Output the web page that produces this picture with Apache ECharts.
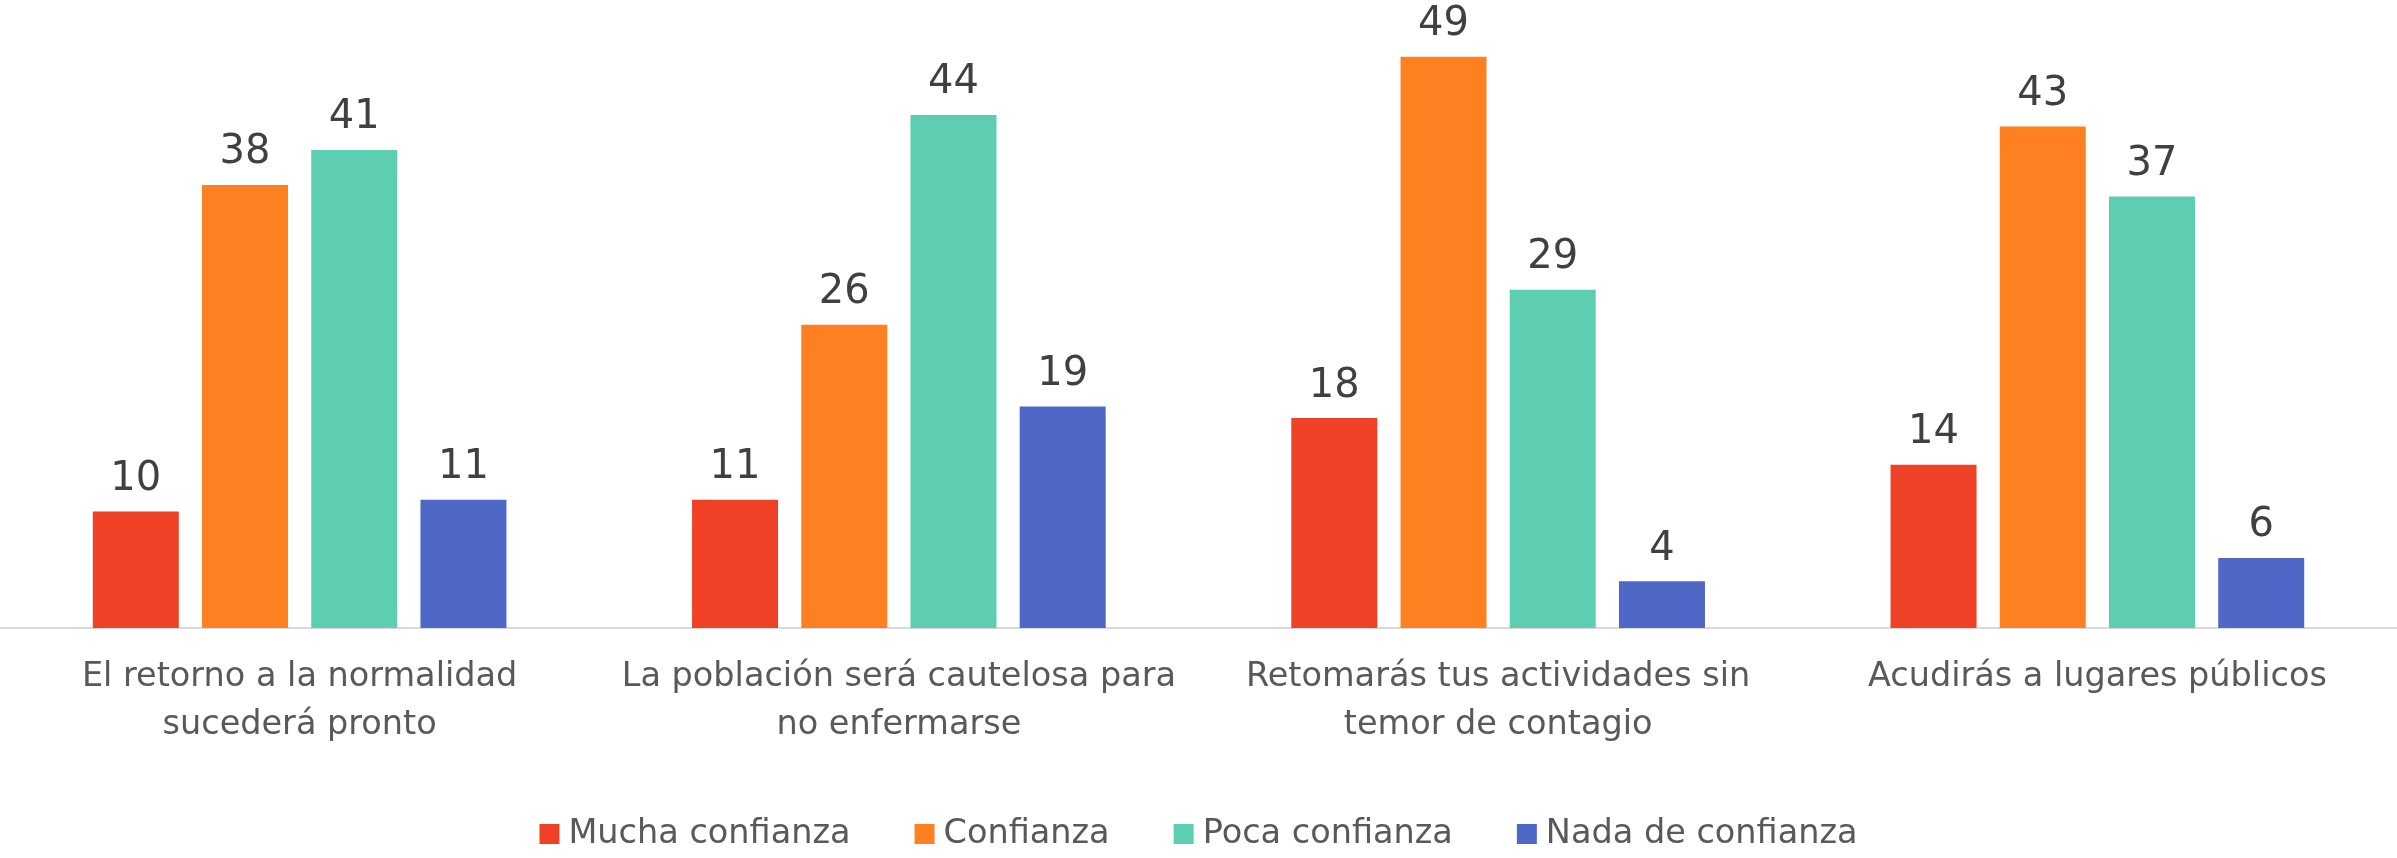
<!DOCTYPE html>
<html>
<head>
<meta charset="utf-8">
<script src="https://cdn.jsdelivr.net/npm/echarts@6/dist/echarts.min.js"></script>
<style>
html,body{margin:0;padding:0;background:#fff;}
#chart{width:2397px;height:858px;}
</style>
</head>
<body>
<div id="chart"></div>
<script>
const categories = [
  "El retorno a la normalidad\nsucederá pronto",
  "La población será cautelosa para\nno enfermarse",
  "Retomarás tus actividades sin\ntemor de contagio",
  "Acudirás a lugares públicos"
];
const seriesNames = ["Mucha confianza", "Confianza", "Poca confianza", "Nada de confianza"];
const muchaConfianza = [10, 11, 18, 14];
const confianza = [38, 26, 49, 43];
const pocaConfianza = [41, 44, 29, 37];
const nadaConfianza = [11, 19, 4, 6];
const colors = ["#EF4126", "#FE8021", "#5ECEB2", "#4F67C7"];

const values = [muchaConfianza, confianza, pocaConfianza, nadaConfianza];
const font = "'DejaVu Sans', Verdana, sans-serif";

const chart = echarts.init(document.getElementById('chart'));
chart.setOption({
  animation: false,
  backgroundColor: '#ffffff',
  grid: { left: 0, right: 0, top: 45, bottom: 230, containLabel: false },
  legend: {
    bottom: 2,
    left: 'center',
    itemWidth: 20,
    itemHeight: 20,
    itemGap: 64,
    icon: 'rect',
    textStyle: { fontFamily: font, fontSize: 33.5, color: '#595959', padding: [0, 0, 0, 4] },
    data: seriesNames
  },
  xAxis: {
    type: 'category',
    data: categories,
    axisLine: { show: true, lineStyle: { color: '#D9D9D9', width: 2 } },
    axisTick: { show: false },
    axisLabel: { fontFamily: font, fontSize: 33.5, color: '#595959', lineHeight: 48, margin: 25, interval: 0, align: 'center' }
  },
  yAxis: {
    type: 'value',
    min: 0,
    max: 50,
    show: false,
    splitLine: { show: false }
  },
  series: seriesNames.map((name, i) => ({
    name: name,
    type: 'bar',
    data: values[i],
    barWidth: 86,
    barGap: '27%',
    itemStyle: { color: colors[i] },
    label: {
      show: true,
      position: 'top',
      distance: 12,
      fontFamily: font,
      fontSize: 40,
      color: '#404040'
    }
  }))
});
</script>
</body>
</html>
